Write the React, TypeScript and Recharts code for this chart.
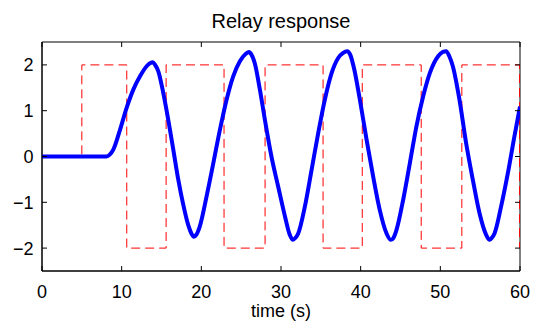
import React from 'react';
import { LineChart, Line, XAxis, YAxis, CartesianGrid } from 'recharts';

const outputTimes = [0, 8.1, 8.5, 8.95, 9.79, 10.62, 11.46, 12.3, 13.13, 13.6, 13.9, 14.2, 14.6, 15.22, 15.85, 16.48, 17.1, 17.73, 18.36, 18.75, 19.07, 19.4, 19.8, 20.66, 21.5, 22.33, 23.17, 24.0, 24.84, 25.5, 25.97, 26.3, 26.7, 27.35, 27.98, 28.8, 29.65, 30.5, 31.1, 31.5, 31.8, 32.16, 33.0, 33.84, 34.67, 35.5, 36.35, 37.18, 37.8, 38.3, 38.7, 39.2, 39.9, 40.74, 41.57, 42.4, 43.25, 43.79, 44.1, 44.5, 45.33, 46.17, 47.0, 47.84, 48.68, 49.72, 50.3, 50.73, 51.1, 51.57, 52.4, 53.24, 54.08, 54.92, 55.75, 56.17, 56.45, 56.8, 57.63, 58.47, 59.3, 60.0];
const outputValues = [0, 0, 0.04, 0.15, 0.58, 1.06, 1.46, 1.75, 1.97, 2.04, 2.06, 2.0, 1.86, 1.39, 0.8, 0.15, -0.5, -1.05, -1.5, -1.68, -1.75, -1.7, -1.53, -0.87, -0.15, 0.58, 1.24, 1.75, 2.08, 2.23, 2.28, 2.22, 2.04, 1.46, 0.8, 0.0, -0.66, -1.31, -1.71, -1.82, -1.78, -1.68, -1.09, -0.29, 0.51, 1.24, 1.82, 2.15, 2.26, 2.3, 2.22, 1.9, 1.24, 0.37, -0.44, -1.17, -1.68, -1.82, -1.78, -1.6, -0.95, -0.15, 0.66, 1.31, 1.82, 2.19, 2.28, 2.3, 2.2, 1.97, 1.24, 0.29, -0.51, -1.24, -1.71, -1.82, -1.78, -1.68, -1.09, -0.37, 0.44, 1.09];

const relayTimes = [0, 5, 5, 10.64, 10.64, 15.58, 15.58, 22.85, 22.85, 28.0, 28.0, 35.28, 35.28, 40.2, 40.2, 47.6, 47.6, 52.7, 52.7, 59.95, 59.95];
const relayValues = [0, 0, 2, 2, -2, -2, 2, 2, -2, -2, 2, 2, -2, -2, 2, 2, -2, -2, 2, 2, -2];

const xTicks = [0, 10, 20, 30, 40, 50, 60];
const yTicks = [-2, -1, 0, 1, 2];

const titleText = 'Relay response';
const xLabel = 'time (s)';

const outputData = outputTimes.map((t, i) => ({ t, y: outputValues[i] }));
const relayData = relayTimes.map((t, i) => ({ t, u: relayValues[i] }));

const W = 533;
const H = 322;
const M_TOP = 42;
const M_RIGHT = 13;
const X_AXIS_H = 51;
const Y_AXIS_W = 42;
const TICK_LEN = 5;
const FONT = 'Liberation Sans, Arial, Helvetica, sans-serif';
const FS = 18;

const fmtY = (v: number) => (v < 0 ? '\u2212' + Math.abs(v) : String(v));

const XTick = (props: any) => {
  const { x, y, payload } = props;
  return (
    <g>
      <line x1={x} x2={x} y1={y} y2={y - TICK_LEN} stroke="#000" strokeWidth={1} />
      <line x1={x} x2={x} y1={M_TOP} y2={M_TOP + TICK_LEN} stroke="#000" strokeWidth={1} />
      <text x={x} y={y + 26.5} textAnchor="middle" fill="#000" fontSize={FS} fontFamily={FONT}>
        {payload.value}
      </text>
    </g>
  );
};

const YTick = (props: any) => {
  const { x, y, payload } = props;
  const right = W - M_RIGHT;
  return (
    <g>
      <line x1={x} x2={x + TICK_LEN} y1={y} y2={y} stroke="#000" strokeWidth={1} />
      <line x1={right} x2={right - TICK_LEN} y1={y} y2={y} stroke="#000" strokeWidth={1} />
      <text x={x - 8.5} y={y + 6.4} textAnchor="end" fill="#000" fontSize={FS} fontFamily={FONT}>
        {fmtY(payload.value)}
      </text>
    </g>
  );
};

export default function App() {
  return (
    <div style={{ position: 'absolute', left: 0, top: 0, width: W, height: H, background: '#fff' }}>
      <div
        style={{
          position: 'absolute',
          left: Y_AXIS_W,
          width: W - Y_AXIS_W - M_RIGHT,
          top: 11,
          lineHeight: '20px',
          textAlign: 'center',
          fontFamily: FONT,
          fontSize: 20,
          color: '#000',
          whiteSpace: 'nowrap',
        }}
      >
        {titleText}
      </div>
      <LineChart width={W} height={H} margin={{ top: M_TOP, right: M_RIGHT, left: 0, bottom: 0 }}>
        <CartesianGrid
          stroke="#000"
          strokeWidth={1}
          horizontalCoordinatesGenerator={({ offset }: any) => [offset.top, offset.top + offset.height]}
          verticalCoordinatesGenerator={({ offset }: any) => [offset.left, offset.left + offset.width]}
        />
        <XAxis
          dataKey="t"
          type="number"
          domain={[0, 60]}
          ticks={xTicks}
          allowDataOverflow
          height={X_AXIS_H}
          tickSize={0}
          tickMargin={0}
          tickLine={false}
          stroke="#000"
          tick={<XTick />}
          label={{ value: xLabel, position: 'insideBottom', offset: 5, fill: '#000', fontSize: FS, fontFamily: FONT }}
        />
        <YAxis
          type="number"
          domain={[-2.5, 2.5]}
          ticks={yTicks}
          allowDataOverflow
          width={Y_AXIS_W}
          tickSize={0}
          tickMargin={0}
          tickLine={false}
          stroke="#000"
          tick={<YTick />}
        />
        <Line
          data={relayData}
          dataKey="u"
          type="linear"
          stroke="#ff0000"
          strokeWidth={1}
          strokeDasharray="9 5"
          dot={false}
          activeDot={false}
          isAnimationActive={false}
        />
        <Line
          data={outputData}
          dataKey="y"
          type="monotone"
          stroke="#0000ff"
          strokeWidth={4}
          dot={false}
          activeDot={false}
          isAnimationActive={false}
        />
      </LineChart>
    </div>
  );
}
